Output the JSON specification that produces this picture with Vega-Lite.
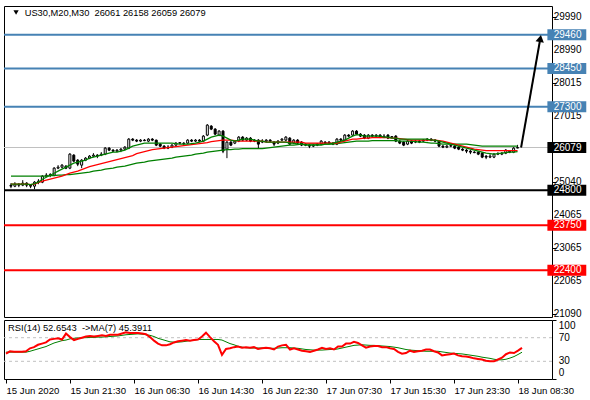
{
"$schema": "https://vega.github.io/schema/vega-lite/v6.json",
"padding": {"left": 1, "top": 5, "right": 0, "bottom": 0},
"background": "white",
"bounds": "flush",
"spacing": 3,
"config": {
  "view": {"stroke": "black", "strokeWidth": 1},
  "font": "Liberation Sans",
  "axis": {"labelFont": "Liberation Sans", "labelColor": "black", "tickColor": "black", "domain": false, "grid": false, "title": null, "labelOverlap": false}
},
"datasets": {
  "levels": [
    {"price": 29460, "type": "resistance"},
    {"price": 28450, "type": "resistance"},
    {"price": 27300, "type": "resistance"},
    {"price": 26079, "type": "current"},
    {"price": 24800, "type": "pivot"},
    {"price": 23750, "type": "support"},
    {"price": 22400, "type": "support"}
  ],
  "priceTicks": [{"p": 29990}, {"p": 28990}, {"p": 28015}, {"p": 27015}, {"p": 25040}, {"p": 24065}, {"p": 23065}, {"p": 22065}, {"p": 21090}],
  "rsiLevels": [{"v": 70}, {"v": 30}],
  "rsiTicks": [{"v": 100}, {"v": 70}, {"v": 30}, {"v": 0}],
  "bars": [
{"i":0,"o":24950,"h":25010,"l":24860,"c":24920,"f":24980,"m":24980,"s":25220,"r":43,"rm":45.5},
{"i":1,"o":24920,"h":25040,"l":24890,"c":24980,"f":24980,"m":24980,"s":25220,"r":47,"rm":45.5},
{"i":2,"o":24980,"h":25010,"l":24890,"c":24950,"f":24980,"m":24980,"s":25220,"r":46,"rm":45.5},
{"i":3,"o":24950,"h":25100,"l":24920,"c":25010,"f":24980,"m":24980,"s":25220,"r":46,"rm":45.5},
{"i":4,"o":25010,"h":25040,"l":24890,"c":24950,"f":24980,"m":24980,"s":25220,"r":46,"rm":45.5},
{"i":5,"o":24950,"h":24980,"l":24860,"c":24920,"f":24965,"m":24965,"s":25220,"r":47,"rm":45.5},
{"i":6,"o":24920,"h":25070,"l":24830,"c":25040,"f":24995,"m":24980,"s":25220,"r":52,"rm":47},
{"i":7,"o":25040,"h":25130,"l":24980,"c":25070,"f":25040,"m":25025,"s":25220,"r":54,"rm":49},
{"i":8,"o":25040,"h":25250,"l":25010,"c":25220,"f":25130,"m":25070,"s":25220,"r":58,"rm":51},
{"i":9,"o":25220,"h":25310,"l":25190,"c":25250,"f":25190,"m":25100,"s":25220,"r":60,"rm":53},
{"i":10,"o":25250,"h":25310,"l":25190,"c":25265,"f":25250,"m":25130,"s":25235,"r":62,"rm":55},
{"i":11,"o":25250,"h":25490,"l":25220,"c":25460,"f":25310,"m":25160,"s":25235,"r":67,"rm":58},
{"i":12,"o":25460,"h":25550,"l":25430,"c":25490,"f":25370,"m":25190,"s":25250,"r":68,"rm":61},
{"i":13,"o":25490,"h":25580,"l":25460,"c":25550,"f":25430,"m":25220,"s":25250,"r":69,"rm":63},
{"i":14,"o":25520,"h":25550,"l":25430,"c":25460,"f":25490,"m":25265,"s":25265,"r":67,"rm":65},
{"i":15,"o":25460,"h":25910,"l":25430,"c":25880,"f":25550,"m":25310,"s":25265,"r":77,"rm":66},
{"i":16,"o":25850,"h":25880,"l":25640,"c":25670,"f":25610,"m":25340,"s":25280,"r":71,"rm":68},
{"i":17,"o":25700,"h":25730,"l":25520,"c":25580,"f":25640,"m":25370,"s":25295,"r":66,"rm":69},
{"i":18,"o":25550,"h":25730,"l":25460,"c":25700,"f":25670,"m":25415,"s":25310,"r":68,"rm":69.5},
{"i":19,"o":25700,"h":25790,"l":25670,"c":25760,"f":25700,"m":25460,"s":25325,"r":70,"rm":70},
{"i":20,"o":25760,"h":25850,"l":25730,"c":25820,"f":25760,"m":25505,"s":25340,"r":72,"rm":70},
{"i":21,"o":25820,"h":25910,"l":25790,"c":25850,"f":25790,"m":25535,"s":25370,"r":73,"rm":70.5},
{"i":22,"o":25850,"h":25880,"l":25760,"c":25820,"f":25820,"m":25565,"s":25385,"r":72,"rm":70.5},
{"i":23,"o":25850,"h":25940,"l":25820,"c":25880,"f":25850,"m":25595,"s":25400,"r":73,"rm":71},
{"i":24,"o":25880,"h":26090,"l":25850,"c":26060,"f":25880,"m":25625,"s":25430,"r":74,"rm":71},
{"i":25,"o":26060,"h":26090,"l":25970,"c":26000,"f":25910,"m":25655,"s":25445,"r":73,"rm":71.5},
{"i":26,"o":26000,"h":26030,"l":25940,"c":25970,"f":25940,"m":25685,"s":25460,"r":75,"rm":72},
{"i":27,"o":25970,"h":26030,"l":25940,"c":26000,"f":25940,"m":25715,"s":25490,"r":75,"rm":72.5},
{"i":28,"o":26000,"h":26060,"l":25940,"c":26030,"f":25970,"m":25745,"s":25505,"r":75,"rm":73},
{"i":29,"o":26030,"h":26120,"l":26000,"c":26090,"f":26000,"m":25775,"s":25520,"r":77,"rm":74},
{"i":30,"o":26060,"h":26360,"l":26030,"c":26330,"f":26060,"m":25805,"s":25550,"r":79,"rm":75},
{"i":31,"o":26330,"h":26360,"l":26270,"c":26300,"f":26120,"m":25835,"s":25580,"r":78,"rm":75.5},
{"i":32,"o":26300,"h":26330,"l":26240,"c":26270,"f":26150,"m":25895,"s":25610,"r":78,"rm":76},
{"i":33,"o":26270,"h":26330,"l":26240,"c":26300,"f":26180,"m":25925,"s":25625,"r":78,"rm":76.5},
{"i":34,"o":26300,"h":26330,"l":26270,"c":26285,"f":26210,"m":25955,"s":25640,"r":77,"rm":76},
{"i":35,"o":26270,"h":26360,"l":26240,"c":26330,"f":26210,"m":25985,"s":25670,"r":76,"rm":75},
{"i":36,"o":26330,"h":26360,"l":26270,"c":26300,"f":26210,"m":26015,"s":25685,"r":71,"rm":74},
{"i":37,"o":26300,"h":26315,"l":26120,"c":26150,"f":26210,"m":26030,"s":25700,"r":65,"rm":72},
{"i":38,"o":26180,"h":26210,"l":26090,"c":26120,"f":26210,"m":26045,"s":25715,"r":60,"rm":69},
{"i":39,"o":26120,"h":26150,"l":26030,"c":26060,"f":26210,"m":26060,"s":25730,"r":57,"rm":67},
{"i":40,"o":26060,"h":26150,"l":26030,"c":26090,"f":26210,"m":26075,"s":25745,"r":57,"rm":65},
{"i":41,"o":26090,"h":26180,"l":26060,"c":26150,"f":26210,"m":26090,"s":25760,"r":59,"rm":63},
{"i":42,"o":26150,"h":26240,"l":26120,"c":26210,"f":26195,"m":26105,"s":25790,"r":62,"rm":62.5},
{"i":43,"o":26210,"h":26240,"l":26180,"c":26225,"f":26180,"m":26120,"s":25805,"r":64,"rm":62.5},
{"i":44,"o":26210,"h":26240,"l":26150,"c":26195,"f":26180,"m":26135,"s":25820,"r":65,"rm":63},
{"i":45,"o":26210,"h":26330,"l":26180,"c":26300,"f":26180,"m":26150,"s":25835,"r":66,"rm":64},
{"i":46,"o":26300,"h":26330,"l":26240,"c":26270,"f":26195,"m":26165,"s":25850,"r":65,"rm":65},
{"i":47,"o":26270,"h":26330,"l":26240,"c":26300,"f":26210,"m":26180,"s":25880,"r":66,"rm":66},
{"i":48,"o":26300,"h":26330,"l":26240,"c":26270,"f":26240,"m":26195,"s":25895,"r":67,"rm":67},
{"i":49,"o":26270,"h":26450,"l":26240,"c":26420,"f":26270,"m":26210,"s":25910,"r":72,"rm":67},
{"i":50,"o":26450,"h":26780,"l":26420,"c":26750,"f":26330,"m":26225,"s":25940,"r":78.5,"rm":67},
{"i":51,"o":26720,"h":26750,"l":26600,"c":26630,"f":26390,"m":26255,"s":25955,"r":71,"rm":67},
{"i":52,"o":26630,"h":26660,"l":26450,"c":26480,"f":26420,"m":26270,"s":25970,"r":64,"rm":67},
{"i":53,"o":26450,"h":26600,"l":26420,"c":26570,"f":26450,"m":26285,"s":25985,"r":58,"rm":67},
{"i":54,"o":26570,"h":26600,"l":25910,"c":25970,"f":26420,"m":26300,"s":26000,"r":41,"rm":66},
{"i":55,"o":26030,"h":26270,"l":25760,"c":26240,"f":26360,"m":26300,"s":26015,"r":51,"rm":63},
{"i":56,"o":26240,"h":26270,"l":26120,"c":26150,"f":26300,"m":26300,"s":26015,"r":52,"rm":60},
{"i":57,"o":26210,"h":26300,"l":26180,"c":26270,"f":26270,"m":26285,"s":26030,"r":54,"rm":58},
{"i":58,"o":26270,"h":26420,"l":26240,"c":26390,"f":26300,"m":26270,"s":26030,"r":55,"rm":55.5},
{"i":59,"o":26390,"h":26420,"l":26270,"c":26300,"f":26330,"m":26270,"s":26045,"r":53,"rm":54},
{"i":60,"o":26300,"h":26390,"l":26270,"c":26360,"f":26330,"m":26270,"s":26045,"r":54,"rm":53},
{"i":61,"o":26360,"h":26390,"l":26240,"c":26270,"f":26330,"m":26270,"s":26045,"r":53,"rm":52.5},
{"i":62,"o":26300,"h":26330,"l":26240,"c":26270,"f":26300,"m":26270,"s":26045,"r":54,"rm":52.5},
{"i":63,"o":26300,"h":26330,"l":26060,"c":26180,"f":26270,"m":26270,"s":26045,"r":51,"rm":52.5},
{"i":64,"o":26240,"h":26330,"l":26210,"c":26270,"f":26270,"m":26270,"s":26045,"r":52,"rm":52.5},
{"i":65,"o":26270,"h":26330,"l":26240,"c":26300,"f":26240,"m":26240,"s":26060,"r":53,"rm":52},
{"i":66,"o":26300,"h":26330,"l":26240,"c":26270,"f":26240,"m":26240,"s":26075,"r":52,"rm":52},
{"i":67,"o":26240,"h":26270,"l":26120,"c":26180,"f":26240,"m":26240,"s":26090,"r":50,"rm":52},
{"i":68,"o":26210,"h":26300,"l":26180,"c":26270,"f":26240,"m":26240,"s":26105,"r":55,"rm":52.5},
{"i":69,"o":26300,"h":26360,"l":26270,"c":26330,"f":26240,"m":26240,"s":26120,"r":57,"rm":53},
{"i":70,"o":26300,"h":26420,"l":26270,"c":26390,"f":26240,"m":26240,"s":26135,"r":58,"rm":53},
{"i":71,"o":26360,"h":26390,"l":26150,"c":26180,"f":26210,"m":26240,"s":26150,"r":50,"rm":53},
{"i":72,"o":26210,"h":26330,"l":26180,"c":26300,"f":26210,"m":26240,"s":26150,"r":52,"rm":52.5},
{"i":73,"o":26300,"h":26330,"l":26180,"c":26210,"f":26180,"m":26240,"s":26165,"r":50,"rm":52},
{"i":74,"o":26240,"h":26270,"l":26120,"c":26150,"f":26180,"m":26240,"s":26180,"r":48,"rm":51},
{"i":75,"o":26180,"h":26210,"l":26120,"c":26150,"f":26150,"m":26210,"s":26180,"r":47,"rm":50},
{"i":76,"o":26150,"h":26180,"l":26060,"c":26120,"f":26150,"m":26210,"s":26180,"r":46,"rm":49.5},
{"i":77,"o":26120,"h":26180,"l":26090,"c":26150,"f":26150,"m":26210,"s":26180,"r":48,"rm":49},
{"i":78,"o":26150,"h":26210,"l":26120,"c":26180,"f":26150,"m":26210,"s":26180,"r":50,"rm":49},
{"i":79,"o":26180,"h":26300,"l":26150,"c":26270,"f":26150,"m":26210,"s":26180,"r":53,"rm":49},
{"i":80,"o":26240,"h":26270,"l":26180,"c":26210,"f":26180,"m":26210,"s":26180,"r":51,"rm":49.5},
{"i":81,"o":26210,"h":26270,"l":26180,"c":26240,"f":26180,"m":26210,"s":26180,"r":52,"rm":50},
{"i":82,"o":26210,"h":26240,"l":26150,"c":26180,"f":26210,"m":26210,"s":26180,"r":50,"rm":50},
{"i":83,"o":26180,"h":26360,"l":26150,"c":26330,"f":26240,"m":26210,"s":26195,"r":55,"rm":51},
{"i":84,"o":26330,"h":26360,"l":26240,"c":26300,"f":26270,"m":26240,"s":26210,"r":55,"rm":52.5},
{"i":85,"o":26300,"h":26480,"l":26270,"c":26450,"f":26300,"m":26270,"s":26225,"r":60,"rm":54},
{"i":86,"o":26450,"h":26480,"l":26390,"c":26420,"f":26360,"m":26300,"s":26240,"r":60,"rm":55.5},
{"i":87,"o":26450,"h":26600,"l":26420,"c":26570,"f":26420,"m":26330,"s":26255,"r":63,"rm":57},
{"i":88,"o":26570,"h":26600,"l":26450,"c":26480,"f":26465,"m":26330,"s":26270,"r":61,"rm":57.5},
{"i":89,"o":26480,"h":26510,"l":26390,"c":26420,"f":26450,"m":26345,"s":26270,"r":57,"rm":58},
{"i":90,"o":26450,"h":26480,"l":26330,"c":26360,"f":26420,"m":26360,"s":26270,"r":53,"rm":57.5},
{"i":91,"o":26360,"h":26480,"l":26330,"c":26450,"f":26420,"m":26360,"s":26270,"r":55,"rm":57},
{"i":92,"o":26450,"h":26480,"l":26390,"c":26420,"f":26420,"m":26375,"s":26285,"r":56,"rm":57},
{"i":93,"o":26420,"h":26480,"l":26390,"c":26450,"f":26420,"m":26375,"s":26285,"r":56,"rm":56.5},
{"i":94,"o":26450,"h":26480,"l":26360,"c":26390,"f":26420,"m":26375,"s":26285,"r":54,"rm":56},
{"i":95,"o":26390,"h":26480,"l":26360,"c":26420,"f":26390,"m":26375,"s":26285,"r":54,"rm":55.5},
{"i":96,"o":26450,"h":26480,"l":26330,"c":26360,"f":26390,"m":26375,"s":26285,"r":52,"rm":55},
{"i":97,"o":26390,"h":26420,"l":26360,"c":26405,"f":26360,"m":26360,"s":26285,"r":51,"rm":54},
{"i":98,"o":26420,"h":26450,"l":26240,"c":26270,"f":26360,"m":26360,"s":26285,"r":46,"rm":53},
{"i":99,"o":26270,"h":26300,"l":26180,"c":26210,"f":26330,"m":26345,"s":26270,"r":43,"rm":51.5},
{"i":100,"o":26240,"h":26270,"l":26120,"c":26150,"f":26330,"m":26330,"s":26270,"r":44,"rm":50},
{"i":101,"o":26180,"h":26300,"l":26150,"c":26270,"f":26330,"m":26315,"s":26270,"r":48,"rm":49},
{"i":102,"o":26270,"h":26300,"l":26180,"c":26210,"f":26330,"m":26300,"s":26270,"r":46,"rm":48.5},
{"i":103,"o":26240,"h":26300,"l":26210,"c":26270,"f":26330,"m":26300,"s":26255,"r":47,"rm":48},
{"i":104,"o":26270,"h":26300,"l":26210,"c":26240,"f":26330,"m":26300,"s":26240,"r":48,"rm":47.5},
{"i":105,"o":26270,"h":26330,"l":26240,"c":26300,"f":26330,"m":26300,"s":26240,"r":50,"rm":47},
{"i":106,"o":26300,"h":26360,"l":26270,"c":26330,"f":26330,"m":26300,"s":26225,"r":50,"rm":47},
{"i":107,"o":26330,"h":26360,"l":26270,"c":26300,"f":26300,"m":26300,"s":26210,"r":47,"rm":47},
{"i":108,"o":26300,"h":26330,"l":26240,"c":26270,"f":26300,"m":26300,"s":26210,"r":45,"rm":47},
{"i":109,"o":26270,"h":26300,"l":26090,"c":26120,"f":26270,"m":26285,"s":26195,"r":40,"rm":46},
{"i":110,"o":26120,"h":26150,"l":26060,"c":26090,"f":26240,"m":26270,"s":26180,"r":41,"rm":45},
{"i":111,"o":26090,"h":26150,"l":26060,"c":26120,"f":26210,"m":26240,"s":26180,"r":42,"rm":44},
{"i":112,"o":26120,"h":26150,"l":26090,"c":26135,"f":26180,"m":26210,"s":26180,"r":43,"rm":43.5},
{"i":113,"o":26120,"h":26150,"l":26030,"c":26060,"f":26150,"m":26180,"s":26180,"r":40,"rm":43},
{"i":114,"o":26090,"h":26120,"l":26000,"c":26030,"f":26120,"m":26150,"s":26180,"r":38.5,"rm":42.5},
{"i":115,"o":26030,"h":26060,"l":25970,"c":26000,"f":26090,"m":26120,"s":26180,"r":38,"rm":41.5},
{"i":116,"o":26000,"h":26030,"l":25910,"c":25970,"f":26060,"m":26090,"s":26180,"r":37,"rm":40.5},
{"i":117,"o":25970,"h":26000,"l":25880,"c":25940,"f":26030,"m":26060,"s":26165,"r":35,"rm":39.5},
{"i":118,"o":25940,"h":25970,"l":25910,"c":25925,"f":26000,"m":26030,"s":26150,"r":34,"rm":38.5},
{"i":119,"o":25940,"h":25970,"l":25850,"c":25880,"f":25970,"m":26015,"s":26135,"r":33,"rm":37},
{"i":120,"o":25910,"h":25940,"l":25760,"c":25790,"f":25940,"m":26000,"s":26120,"r":31,"rm":36},
{"i":121,"o":25820,"h":25850,"l":25730,"c":25790,"f":25910,"m":25985,"s":26120,"r":30,"rm":35},
{"i":122,"o":25790,"h":25880,"l":25760,"c":25820,"f":25895,"m":25985,"s":26120,"r":30,"rm":33.5},
{"i":123,"o":25790,"h":25910,"l":25760,"c":25880,"f":25880,"m":25985,"s":26120,"r":33,"rm":32.5},
{"i":124,"o":25880,"h":25940,"l":25850,"c":25895,"f":25895,"m":25985,"s":26120,"r":36,"rm":32.5},
{"i":125,"o":25880,"h":25940,"l":25850,"c":25910,"f":25910,"m":25985,"s":26120,"r":42,"rm":33.5},
{"i":126,"o":25910,"h":26030,"l":25880,"c":26000,"f":25925,"m":25985,"s":26120,"r":45,"rm":35.5},
{"i":127,"o":25970,"h":26000,"l":25910,"c":25940,"f":25940,"m":25985,"s":26120,"r":44,"rm":38},
{"i":128,"o":25940,"h":26090,"l":25910,"c":26060,"f":25940,"m":25985,"s":26120,"r":48,"rm":41.5},
{"i":129,"o":26061,"h":26158,"l":26059,"c":26079,"f":25955,"m":25985,"s":26120,"r":52.6543,"rm":45.3911}
  ]
},
"vconcat": [
  {
    "width": 548,
    "height": 311,
    "layer": [
      {
        "data": {"name": "levels"},
        "mark": {"type": "rule"},
        "encoding": {
          "y": {"field": "price", "type": "quantitative",
                "scale": {"domain": [20999, 30320], "nice": false, "zero": false},
                "axis": {"orient": "right", "values": [29990, 28990, 28015, 27015, 25040, 24065, 23065, 22065, 21090],
                         "tickSize": 4, "labels": false}},
          "color": {"field": "type", "type": "nominal",
                    "scale": {"domain": ["resistance", "pivot", "support", "current"], "range": ["#4682B4", "black", "red", "#C0C0C0"]},
                    "legend": null},
          "strokeWidth": {"condition": {"test": "datum.type == 'current'", "value": 1}, "value": 2}
        }
      },
      {
        "data": {"name": "bars"},
        "mark": {"type": "rule", "color": "black", "strokeWidth": 1},
        "encoding": {
          "x": {"field": "i", "type": "quantitative", "scale": {"domain": [-0.5, 136.5], "nice": false, "zero": false}, "axis": null},
          "y": {"field": "l", "type": "quantitative"},
          "y2": {"field": "h"}
        }
      },
      {
        "data": {"name": "bars"},
        "mark": {"type": "bar", "width": 2, "stroke": "black", "strokeWidth": 1},
        "encoding": {
          "x": {"field": "i", "type": "quantitative"},
          "y": {"field": "o", "type": "quantitative"},
          "y2": {"field": "c"},
          "fill": {"condition": {"test": "datum.c > datum.o", "value": "white"}, "value": "black"}
        }
      },
      {
        "data": {"name": "bars"},
        "mark": {"type": "line", "color": "#008000", "strokeWidth": 1.2},
        "encoding": {"x": {"field": "i", "type": "quantitative"}, "y": {"field": "s", "type": "quantitative"}}
      },
      {
        "data": {"name": "bars"},
        "mark": {"type": "line", "color": "#FF0000", "strokeWidth": 1.2},
        "encoding": {"x": {"field": "i", "type": "quantitative"}, "y": {"field": "m", "type": "quantitative"}}
      },
      {
        "data": {"name": "bars"},
        "mark": {"type": "line", "color": "#008000", "strokeWidth": 1.2},
        "encoding": {"x": {"field": "i", "type": "quantitative"}, "y": {"field": "f", "type": "quantitative"}}
      },
      {
        "data": {"values": [{}]},
        "mark": {"type": "rule", "color": "black", "strokeWidth": 2},
        "encoding": {"x": {"datum": 129.9}, "y": {"datum": 26079}, "x2": {"datum": 134.8}, "y2": {"datum": 29346}}
      },
      {
        "data": {"values": [{}]},
        "mark": {"type": "point", "shape": "triangle-up", "size": 70, "filled": true, "color": "black", "opacity": 1, "angle": 10},
        "encoding": {"x": {"datum": 134.8}, "y": {"datum": 29346}}
      },
      {
        "data": {"name": "priceTicks"},
        "mark": {"type": "text", "color": "black", "align": "left", "baseline": "middle", "fontSize": 10, "font": "Liberation Sans"},
        "encoding": {
          "y": {"field": "p", "type": "quantitative"},
          "x": {"datum": 138.2},
          "text": {"field": "p", "type": "quantitative", "format": "d"}
        }
      },
      {
        "data": {"name": "levels"},
        "mark": {"type": "rule", "strokeWidth": 11, "strokeCap": "butt"},
        "encoding": {
          "y": {"field": "price", "type": "quantitative"},
          "x": {"datum": 136.6},
          "x2": {"datum": 146.5},
          "stroke": {"field": "type", "type": "nominal",
                     "scale": {"domain": ["resistance", "pivot", "support", "current"], "range": ["#4682B4", "black", "red", "black"]},
                     "legend": null}
        }
      },
      {
        "data": {"name": "levels"},
        "mark": {"type": "text", "color": "white", "align": "left", "baseline": "middle", "fontSize": 10, "font": "Liberation Sans"},
        "encoding": {
          "y": {"field": "price", "type": "quantitative"},
          "x": {"datum": 138.2},
          "text": {"field": "price", "type": "quantitative", "format": "d"}
        }
      },
      {
        "data": {"values": [{}]},
        "mark": {"type": "point", "shape": "triangle-down", "size": 28, "filled": true, "color": "black", "opacity": 1},
        "encoding": {"x": {"datum": 1.3}, "y": {"datum": 30125}}
      },
      {
        "data": {"values": [{}]},
        "mark": {"type": "text", "align": "left", "baseline": "middle", "fontSize": 9.3, "color": "black", "font": "Liberation Sans",
                 "text": "US30,M20,M30\u00a0 26061 26158 26059 26079"},
        "encoding": {"x": {"datum": 3.5}, "y": {"datum": 30110}}
      }
    ]
  },
  {
    "width": 548,
    "height": 59,
    "layer": [
      {
        "data": {"name": "rsiLevels"},
        "mark": {"type": "rule", "color": "#C0C0C0", "strokeDash": [3, 3], "strokeWidth": 1},
        "encoding": {
          "y": {"field": "v", "type": "quantitative",
                "scale": {"domain": [0, 100], "nice": false, "zero": false},
                "axis": {"orient": "right", "values": [100, 70, 30, 0], "labels": false, "tickSize": 4}}
        }
      },
      {
        "data": {"name": "bars"},
        "mark": {"type": "line", "color": "#008000", "strokeWidth": 1},
        "encoding": {
          "x": {"field": "i", "type": "quantitative",
                "scale": {"domain": [-0.5, 136.5], "nice": false, "zero": false},
                "axis": {"values": [0, 16, 32, 48, 64, 80, 96, 112, 128],
                         "labelExpr": "['15 Jun 2020','15 Jun 21:30','16 Jun 06:30','16 Jun 14:30','16 Jun 22:30','17 Jun 07:30','17 Jun 15:30','17 Jun 23:30','18 Jun 08:30'][round(datum.value/16)]",
                         "labelAlign": "left", "labelFlush": false, "labelOverlap": false, "labelBound": false,
                         "tickSize": 4, "labelPadding": 2, "labelFontSize": 9.6, "labelBaseline": "top"}},
          "y": {"field": "rm", "type": "quantitative"}
        }
      },
      {
        "data": {"name": "bars"},
        "mark": {"type": "line", "color": "#FF0000", "strokeWidth": 2},
        "encoding": {"x": {"field": "i", "type": "quantitative"}, "y": {"field": "r", "type": "quantitative"}}
      },
      {
        "data": {"name": "rsiTicks"},
        "transform": [{"filter": "datum.v == 100"}],
        "mark": {"type": "text", "color": "black", "align": "left", "baseline": "top", "dy": 1, "fontSize": 10, "font": "Liberation Sans"},
        "encoding": {"y": {"field": "v", "type": "quantitative"}, "x": {"datum": 138.2}, "text": {"field": "v", "type": "quantitative", "format": "d"}}
      },
      {
        "data": {"name": "rsiTicks"},
        "transform": [{"filter": "datum.v == 70 || datum.v == 30"}],
        "mark": {"type": "text", "color": "black", "align": "left", "baseline": "middle", "fontSize": 10, "font": "Liberation Sans"},
        "encoding": {"y": {"field": "v", "type": "quantitative"}, "x": {"datum": 138.2}, "text": {"field": "v", "type": "quantitative", "format": "d"}}
      },
      {
        "data": {"name": "rsiTicks"},
        "transform": [{"filter": "datum.v == 0"}],
        "mark": {"type": "text", "color": "black", "align": "left", "baseline": "bottom", "dy": -1, "fontSize": 10, "font": "Liberation Sans"},
        "encoding": {"y": {"field": "v", "type": "quantitative"}, "x": {"datum": 138.2}, "text": {"field": "v", "type": "quantitative", "format": "d"}}
      },
      {
        "data": {"values": [{}]},
        "mark": {"type": "text", "align": "left", "baseline": "middle", "fontSize": 9.4, "color": "black", "font": "Liberation Sans",
                 "text": "RSI(14) 52.6543\u00a0 ->MA(7) 45.3911"},
        "encoding": {"x": {"datum": 0.5}, "y": {"datum": 86}}
      }
    ]
  }
]
}
